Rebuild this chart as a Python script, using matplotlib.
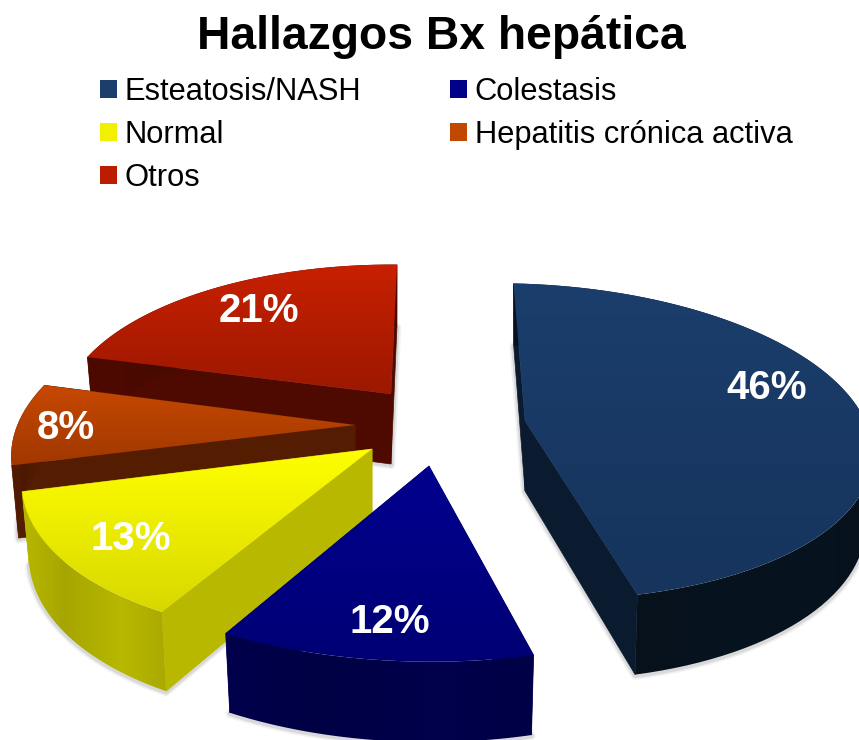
import matplotlib
matplotlib.use("Agg")
import matplotlib.pyplot as plt
import numpy as np
from matplotlib.patches import Patch, Polygon

plt.rcParams["font.family"] = ["Liberation Sans", "DejaVu Sans"]

TITLE = "Hallazgos Bx hepática"
categories = ["Esteatosis/NASH", "Colestasis", "Normal", "Hepatitis crónica activa", "Otros"]
values = [46, 12, 13, 8, 21]

# top gradient (back, front), radial wall, rim wall
top_back = ["#1b3e6c", "#00008e", "#ffff00", "#c84800", "#c82000"]
top_front = ["#16345c", "#000074", "#d8d800", "#a03800", "#9c1800"]
radial_colors = ["#0a1b2f", "#00005a", "#b8b800", "#541c00", "#4e0a00"]
rim_colors = ["#07131f", "#00004c", "#b8b800", "#541c00", "#4e0a00"]
legend_colors = ["#1b3e6c", "#000088", "#f0f000", "#c04800", "#bc1c00"]

# per slice placement: apex x, apex y, projection A B C D
apexes = [(525, 421), (429, 466), (372, 449), (355, 425), (391, 394)]
projections = [
    (345, 2, 13, -155),
    (371, 17, 10, -170),
    (340, 39, 7, -164),
    (334, 37, 8, -160),
    (323, 21, 8, -146),
]
label_spots = [(767, 388), (390, 622), (131, 539), (66, 428), (259, 311)]
draw_order = [4, 3, 0, 2, 1]

START_ANGLE = -2.5
PERSPECTIVE = 0.13
DEPTH = 70


def project(angles, apex, proj):
    u = np.sin(np.radians(angles))
    v = np.cos(np.radians(angles))
    scale = 1 / (1 + PERSPECTIVE * v)
    a, b, c, d = proj
    dx = (a * u + b * v) * scale
    dy = (c * u + d * v) * scale
    top = np.column_stack([apex[0] + dx, apex[1] + dy])
    low = np.column_stack([apex[0] + dx * 0.98, apex[1] + dy + DEPTH * scale])
    return top, low


def clipped_gradient(ax, outline, image, zorder):
    clip = Polygon(outline, closed=True, transform=ax.transData, facecolor="none", edgecolor="none")
    ax.add_patch(clip)
    x0, x1 = outline[:, 0].min(), outline[:, 0].max()
    y0, y1 = outline[:, 1].min(), outline[:, 1].max()
    im = ax.imshow(image, extent=(x0, x1, y1, y0), aspect="auto", zorder=zorder, interpolation="bilinear")
    im.set_clip_path(clip)


def draw_slice(ax, start, end, index, zorder):
    apex = apexes[index]
    angles = np.linspace(start, end, 80)
    top, low = project(angles, apex, projections[index])
    apex_top = np.array(apex, dtype=float)
    apex_low = apex_top + [0, DEPTH]

    # soft shadow under the bottom edge
    outline = np.vstack([apex_low, low, apex_low])
    for width, alpha in [(6, 0.08), (3.5, 0.15)]:
        ax.plot(outline[:, 0], outline[:, 1] + 1, color="#555555", lw=width, alpha=alpha, zorder=zorder, solid_capstyle="round")

    for wall_top, wall_low in sorted([(top[0], low[0]), (top[-1], low[-1])], key=lambda wall: wall[0][1]):
        color = radial_colors[index]
        ax.add_patch(Polygon([apex_top, wall_top, wall_low, apex_low], closed=True, facecolor=color, edgecolor=color, lw=0.5, zorder=zorder + 0.1))

    # rim wall, shaded left to right
    rim_outline = np.vstack([top, low[::-1]])
    frac = np.linspace(0, 1, 128)
    shade = np.interp(frac, [0, 0.3, 0.7, 1], [1.0, 0.9, 1.0, 0.92])
    base = np.array(matplotlib.colors.to_rgb(rim_colors[index]))
    clipped_gradient(ax, rim_outline, (shade[:, None] * base)[None, :, :], zorder + 0.2)

    outline_top = np.vstack([apex_top, top])
    c0 = np.array(matplotlib.colors.to_rgb(top_back[index]))
    c1 = np.array(matplotlib.colors.to_rgb(top_front[index]))
    ramp = np.linspace(0, 1, 128)[:, None, None]
    clipped_gradient(ax, outline_top, (1 - ramp) * c0[None, None, :] + ramp * c1[None, None, :], zorder + 0.3)


def main():
    fig = plt.figure(figsize=(8.59, 7.40), dpi=100)
    ax = fig.add_axes([0, 0, 1, 1])

    edges = START_ANGLE + np.concatenate([[0], np.cumsum(values)]) * 3.6
    for z, index in enumerate(draw_order):
        draw_slice(ax, edges[index], edges[index + 1], index, 2 + z)

    ax.set_xlim(0, 859)
    ax.set_ylim(740, 0)
    ax.axis("off")

    for value, spot in zip(values, label_spots):
        ax.text(spot[0], spot[1], f"{value}%", color="white", fontsize=29, fontweight="bold", ha="center", va="center", zorder=20)

    ax.text(441, 37, TITLE, color="black", fontsize=33.3, fontweight="bold", ha="center", va="center", zorder=20)

    order = list(range(0, len(categories), 2)) + list(range(1, len(categories), 2))
    handles = [Patch(facecolor=legend_colors[i], edgecolor="none") for i in order]
    labels = [categories[i] for i in order]
    ax.legend(
        handles,
        labels,
        ncol=2,
        loc="upper left",
        bbox_to_anchor=(100, 77),
        bbox_transform=ax.transData,
        frameon=False,
        fontsize=22.2,
        borderpad=0,
        borderaxespad=0,
        handlelength=0.55,
        handleheight=0.55,
        handletextpad=0.24,
        labelspacing=0.42,
        columnspacing=2.9,
    )

    fig.savefig("out.png", dpi=100)
    plt.close(fig)


if __name__ == "__main__":
    main()
